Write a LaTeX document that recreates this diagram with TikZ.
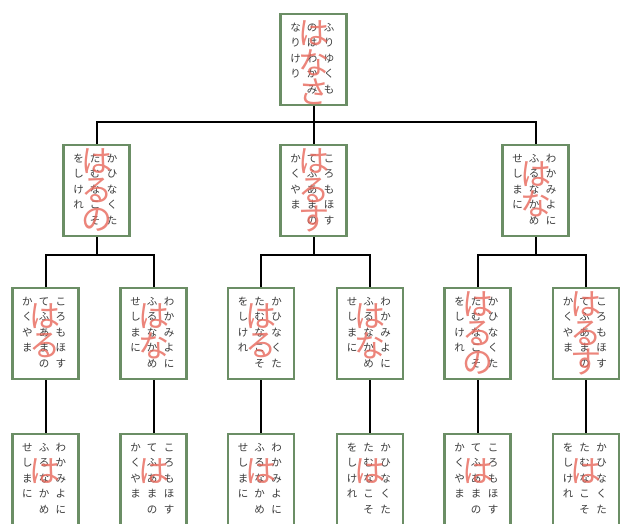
\documentclass[tikz,border=0pt]{standalone}
\usepackage{fontspec}
\newfontfamily\jp{Noto Sans CJK JP}
\usetikzlibrary{calc}
\definecolor{cardgreen}{HTML}{6B8E65}
\definecolor{kanagray}{HTML}{3A3A3A}
\definecolor{kimarired}{HTML}{E8675A}
\tikzset{
  card/.style={draw=cardgreen, line width=2.8pt, fill=white, minimum width=66pt,
    minimum height=91pt, inner sep=0pt, anchor=north},
  lowcard/.style={card, minimum height=110pt},
  kana/.style={font=\jp\fontsize{10.5}{12}\selectfont, text=kanagray, inner sep=0pt, anchor=center},
  kimari/.style={font=\jp\fontsize{31}{31}\selectfont, text=kimarired, opacity=0.8,
    inner sep=0pt, anchor=center},
  link/.style={line width=2pt, draw=black}
}
% #1 card name, #2 right column, #3 middle column, #4 left column, #5 red text, #6 first red offset
\newcommand\cardtext[6]{%
  \foreach \ch [count=\k] in {#2} \node[kana] (#1-a\k) at ($(#1.north)+(15.5,15+15.5*\k-15.5)$) {\ch};
  \foreach \ch [count=\k] in {#3} \node[kana] (#1-b\k) at ($(#1.north)+(-1.5,15+15.5*\k-15.5)$) {\ch};
  \foreach \ch [count=\k] in {#4} \node[kana] (#1-c\k) at ($(#1.north)+(-18,15+15.5*\k-15.5)$) {\ch};
  \foreach \ch [count=\k] in {#5} \node[kimari] (#1-r\k) at ($(#1.north)+(0,#6+29*\k-29)$) {\ch};
}
\begin{document}
\begin{tikzpicture}[x=1pt,y=-1pt]
\useasboundingbox (0,0) rectangle (622,523);
% cards
\node[card] (r) at (313.5,12.5) {};
\node[card] (b1) at (96.5,143.5) {};
\node[card] (b2) at (313.5,143.5) {};
\node[card] (b3) at (535.5,143.5) {};
\node[card] (c1) at (45.5,286.5) {};
\node[card] (c2) at (153.5,286.5) {};
\node[card] (c3) at (261,286.5) {};
\node[card] (c4) at (370,286.5) {};
\node[card] (c5) at (477.5,286.5) {};
\node[card] (c6) at (586,286.5) {};
\node[lowcard] (d1) at (45.5,432.5) {};
\node[lowcard] (d2) at (153.5,432.5) {};
\node[lowcard] (d3) at (261,432.5) {};
\node[lowcard] (d4) at (370,432.5) {};
\node[lowcard] (d5) at (477.5,432.5) {};
\node[lowcard] (d6) at (586,432.5) {};
% connectors
\coordinate (h1) at (0,122);
\coordinate (h2) at (0,255);
\draw[link] (r.south) -- (b2.north);
\draw[link] (b1.north) |- (b3.north |- h1) -- (b3.north);
\draw[link] (b1.south) -- (b1.south |- h2);
\draw[link] (b2.south) -- (b2.south |- h2);
\draw[link] (b3.south) -- (b3.south |- h2);
\draw[link] (c1.north) |- (c2.north |- h2) -- (c2.north);
\draw[link] (c3.north) |- (c4.north |- h2) -- (c4.north);
\draw[link] (c5.north) |- (c6.north |- h2) -- (c6.north);
\draw[link] (c1.south) -- (d1.north);
\draw[link] (c2.south) -- (d2.north);
\draw[link] (c3.south) -- (d3.north);
\draw[link] (c4.south) -- (d4.north);
\draw[link] (c5.south) -- (d5.north);
\draw[link] (c6.south) -- (d6.north);
% texts
\cardtext{r}{ふ,り,ゆ,く,も}{の,は,わ,か,み}{な,り,け,り}{は,な,さ}{21}
\cardtext{b1}{か,ひ,な,く,た}{た,む,な,こ,そ}{を,し,け,れ}{は,る,の}{18}
\cardtext{b2}{こ,ろ,も,ほ,す}{て,ふ,あ,ま,の}{か,く,や,ま}{は,る,す}{18}
\cardtext{b3}{わ,か,み,よ,に}{ふ,る,な,か,め}{せ,し,ま,に}{は,な}{31}
\cardtext{c1}{こ,ろ,も,ほ,す}{て,ふ,あ,ま,の}{か,く,や,ま}{は,る}{30}
\cardtext{c2}{わ,か,み,よ,に}{ふ,る,な,か,め}{せ,し,ま,に}{は,な}{30}
\cardtext{c3}{か,ひ,な,く,た}{た,む,な,こ,そ}{を,し,け,れ}{は,る}{30}
\cardtext{c4}{わ,か,み,よ,に}{ふ,る,な,か,め}{せ,し,ま,に}{は,な}{30}
\cardtext{c5}{か,ひ,な,く,た}{た,む,な,こ,そ}{を,し,け,れ}{は,る,の}{18}
\cardtext{c6}{こ,ろ,も,ほ,す}{て,ふ,あ,ま,の}{か,く,や,ま}{は,る,す}{18}
\cardtext{d1}{わ,か,み,よ,に}{ふ,る,な,か,め}{せ,し,ま,に}{は}{39}
\cardtext{d2}{こ,ろ,も,ほ,す}{て,ふ,あ,ま,の}{か,く,や,ま}{は}{39}
\cardtext{d3}{わ,か,み,よ,に}{ふ,る,な,か,め}{せ,し,ま,に}{は}{39}
\cardtext{d4}{か,ひ,な,く,た}{た,む,な,こ,そ}{を,し,け,れ}{は}{39}
\cardtext{d5}{こ,ろ,も,ほ,す}{て,ふ,あ,ま,の}{か,く,や,ま}{は}{39}
\cardtext{d6}{か,ひ,な,く,た}{た,む,な,こ,そ}{を,し,け,れ}{は}{39}
\end{tikzpicture}
\end{document}
